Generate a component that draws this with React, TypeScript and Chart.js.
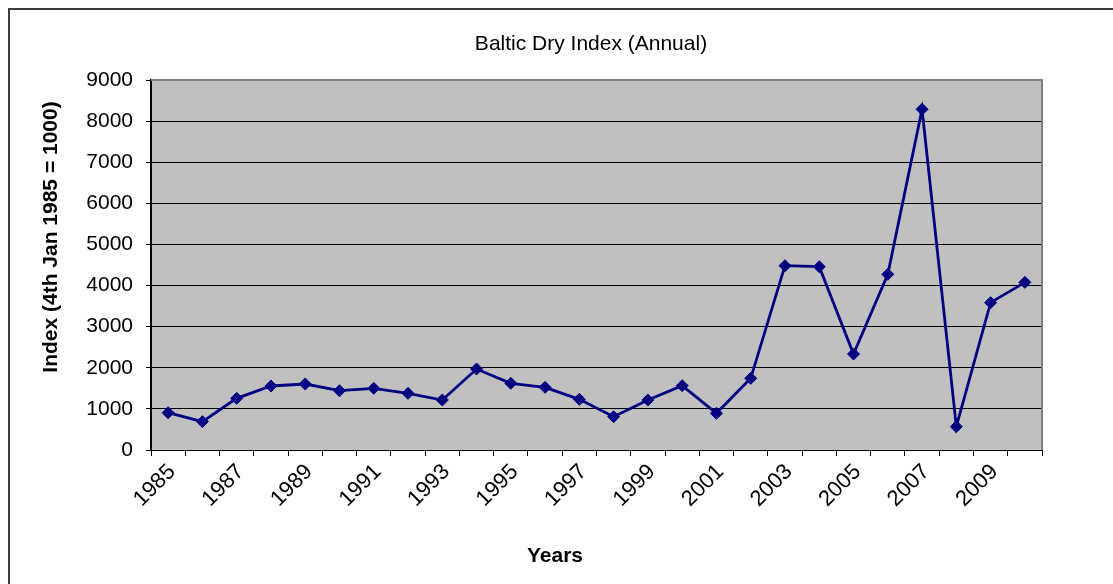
import React, { useEffect, useRef } from "react";
import { Chart, registerables } from "chart.js";

Chart.register(...registerables);

// ---- data ----
const years: string[] = [
  "1985", "1986", "1987", "1988", "1989", "1990", "1991", "1992", "1993",
  "1994", "1995", "1996", "1997", "1998", "1999", "2000", "2001", "2002",
  "2003", "2004", "2005", "2006", "2007", "2008", "2009", "2010",
];
const bdiValues: number[] = [
  907, 690, 1257, 1557, 1605, 1443, 1500, 1378, 1216,
  1970, 1622, 1524, 1232, 811, 1216, 1565, 892, 1743,
  4483, 4459, 2335, 4273, 8287, 568, 3584, 4078,
];
const yMin = 0;
const yMax = 9000;
const yStep = 1000;
const chartTitle = "Baltic Dry Index (Annual)";
const xAxisTitle = "Years";
const yAxisTitle = "Index (4th Jan 1985 = 1000)";

const FONT = "'Liberation Sans', Arial, sans-serif";
const W = 1103;
const H = 574;

const decorPlugin = {
  id: "decor",
  beforeDraw(chart: any) {
    const { ctx, chartArea } = chart;
    ctx.save();
    ctx.fillStyle = "#C0C0C0";
    ctx.fillRect(chartArea.left, chartArea.top, chartArea.right - chartArea.left, chartArea.bottom - chartArea.top);
    ctx.restore();
  },
  beforeDatasetsDraw(chart: any) {
    const { ctx, chartArea } = chart;
    ctx.save();
    ctx.strokeStyle = "#808080";
    ctx.lineWidth = 2;
    ctx.beginPath();
    ctx.moveTo(chartArea.left, chartArea.top);
    ctx.lineTo(chartArea.right, chartArea.top);
    ctx.lineTo(chartArea.right, chartArea.bottom);
    ctx.stroke();
    ctx.restore();
  },
  afterDraw(chart: any) {
    const { ctx } = chart;
    ctx.save();
    ctx.fillStyle = "#000";
    ctx.textAlign = "center";
    ctx.textBaseline = "middle";
    ctx.font = `21px ${FONT}`;
    ctx.fillText(chartTitle, 581, 34);
    ctx.font = `bold 21px ${FONT}`;
    ctx.fillText(xAxisTitle, 545, 546);
    ctx.translate(41, 227);
    ctx.rotate(-Math.PI / 2);
    ctx.fillText(yAxisTitle, 0, 0);
    ctx.restore();
  },
};

export default function App() {
  const ref = useRef<HTMLCanvasElement | null>(null);

  useEffect(() => {
    if (!ref.current) return;
    const chart = new Chart(ref.current, {
      type: "line",
      data: {
        labels: years,
        datasets: [
          {
            label: "BDI",
            data: bdiValues,
            borderColor: "#000080",
            backgroundColor: "#000080",
            borderWidth: 2.8,
            pointStyle: "rectRot",
            pointRadius: 6,
            pointBackgroundColor: "#000080",
            pointBorderColor: "#000080",
            pointBorderWidth: 1,
            tension: 0,
          },
        ],
      },
      options: {
        responsive: false,
        animation: false,
        layout: { padding: { top: 70, right: 71, left: 0, bottom: 0 } },
        plugins: {
          legend: { display: false },
          title: { display: false },
          tooltip: { enabled: false },
        },
        scales: {
          x: {
            type: "category",
            offset: true,
            grid: {
              offset: true,
              drawOnChartArea: false,
              drawTicks: true,
              tickLength: 6,
              color: "#000",
            },
            border: { display: true, color: "#000", width: 1 },
            ticks: {
              autoSkip: false,
              minRotation: 45,
              maxRotation: 45,
              padding: 3,
              labelOffset: 4,
              color: "#000",
              font: { family: FONT, size: 22 },
              callback: (_v: any, i: number) => (i % 2 === 0 ? years[i] : ""),
            },
            afterFit: (scale: any) => {
              scale.height = H - 440;
            },
          },
          y: {
            min: yMin,
            max: yMax,
            grid: {
              color: "#000",
              lineWidth: 1,
              drawTicks: true,
              tickLength: 5,
            },
            border: { display: true, color: "#000", width: 2 },
            ticks: {
              stepSize: yStep,
              padding: 13,
              color: "#000",
              font: { family: FONT, size: 21 },
              callback: (v: any) => String(v),
            },
            afterFit: (scale: any) => {
              scale.width = 141;
            },
          },
        },
      },
      plugins: [decorPlugin],
    });
    return () => chart.destroy();
  }, []);

  return (
    <div
      style={{
        position: "fixed",
        left: 8,
        top: 8,
        width: W,
        height: H,
        borderTop: "2px solid #3c3c3c",
        borderLeft: "2px solid #3c3c3c",
        background: "#fff",
      }}
    >
      <canvas ref={ref} width={W} height={H} style={{ display: "block" }} />
    </div>
  );
}
